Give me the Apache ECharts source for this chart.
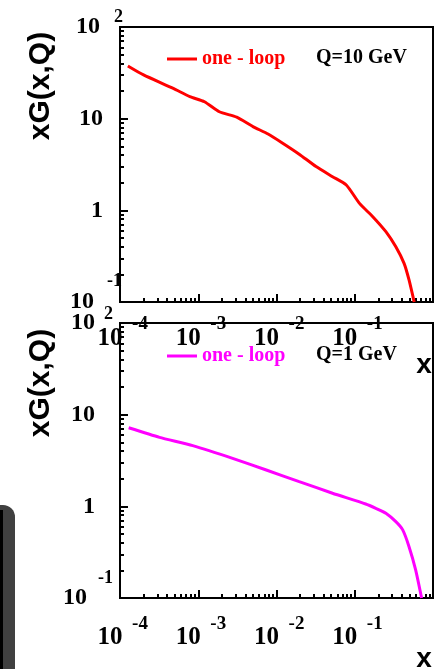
<!DOCTYPE html>
<html>
<head>
<meta charset="utf-8">
<script src="https://cdn.jsdelivr.net/npm/echarts@6/dist/echarts.min.js"></script>
<style>html,body{margin:0;padding:0;background:#fff}#c{width:435px;height:669px}</style>
</head>
<body>
<div id="c"></div>
<script>
// ---- data ----
const xTop = [1.26e-4, 2.0e-4, 4.8e-4, 7.8e-4, 1.2e-3, 1.86e-3, 3.1e-3, 5.0e-3, 7.8e-3, 1.2e-2, 1.95e-2, 3.2e-2, 5.2e-2, 7.8e-2, 0.115, 0.17, 0.25, 0.335, 0.427, 0.494, 0.575];
const yTop = [37.6, 30, 21.4, 17.4, 15.3, 11.9, 10.4, 8.2, 6.8, 5.4, 4.1, 3.0, 2.33, 1.89, 1.19, 0.853, 0.585, 0.40, 0.264, 0.174, 0.10];
const xBot = [1.29e-4, 3.2e-4, 8.5e-4, 2.75e-3, 7.4e-3, 1.95e-2, 5.2e-2, 0.138, 0.186, 0.25, 0.335, 0.41, 0.494, 0.60, 0.715];
const yBot = [7.2, 5.66, 4.59, 3.34, 2.49, 1.86, 1.39, 1.06, 0.95, 0.84, 0.68, 0.553, 0.363, 0.203, 0.10];

// ---- ticks / labels ----
const xMajorTicks = [1e-4, 1e-3, 1e-2, 1e-1, 1];
const xLabelValues = [1e-4, 1e-3, 1e-2, 1e-1];
const xLabelBase = ['10', '10', '10', '10'];
const xLabelExp = ['-4', '-3', '-2', '-1'];
const yMajorTicks = [0.1, 1, 10, 100];
const yLabelBase = ['10', '1', '10', '10'];
const yExpValues = [0.1, 100];
const yExpLabels = ['-1', '2'];
const minorMult = [2, 3, 4, 5, 6, 7, 8, 9];
const xDecades = [1e-4, 1e-3, 1e-2, 1e-1];
const yDecades = [0.1, 1, 10];
const xMinorTicks = [];
xDecades.forEach(d => minorMult.forEach(m => xMinorTicks.push(+(m * d).toPrecision(6))));
const yMinorTicks = [];
yDecades.forEach(d => minorMult.forEach(m => yMinorTicks.push(+(m * d).toPrecision(6))));

const SERIF = '"Liberation Serif", "Times New Roman", serif';
const SANS = '"Liberation Sans", Arial, sans-serif';

function idxOf(arr, v) {
  let best = 0, bd = Infinity;
  arr.forEach((a, i) => { const d = Math.abs(Math.log10(a) - Math.log10(v)); if (d < bd) { bd = d; best = i; } });
  return best;
}

const panels = [
  { top: 27, xm: 24, xem: 12.5, ym: 17, ymD: 3, ymC: 9, yem: -3, e2pb: 19, e1pb: 42, e1pr: 1 },
  { top: 323, xm: 27.5, xem: 16.5, ym: 25, ymD: 0, ymC: 8, yem: 7, e2pb: 18, e1pb: 40, e1pr: 0 }
];

const grids = [], xAxes = [], yAxes = [];
panels.forEach((p, g) => {
  grids.push({ left: 120, top: p.top, width: 313, height: 275, show: true, borderColor: '#000', borderWidth: 2, backgroundColor: 'transparent', containLabel: false, outerBoundsMode: 'none' });
  const baseX = { gridIndex: g, type: 'log', logBase: 10, min: 1e-4, max: 1, position: 'bottom', splitLine: { show: false }, minorTick: { show: false }, minorSplitLine: { show: false } };
  // main x
  xAxes.push(Object.assign({}, baseX, {
    axisLine: { show: true, onZero: false, lineStyle: { color: '#000', width: 2 } },
    axisTick: { show: true, inside: true, length: 8, lineStyle: { color: '#000', width: 2 }, customValues: xMajorTicks },
    axisLabel: { show: true, customValues: xLabelValues, formatter: v => xLabelBase[idxOf(xLabelValues, v)], margin: p.xm, padding: [0, 20, 0, 0], color: '#000', fontFamily: SERIF, fontWeight: 'bold', fontSize: 25 }
  }));
  // exponent x
  xAxes.push(Object.assign({}, baseX, {
    axisLine: { show: false }, axisTick: { show: false },
    axisLabel: { show: true, customValues: xLabelValues, formatter: v => xLabelExp[idxOf(xLabelValues, v)], margin: p.xem, padding: [0, 0, 0, 40], color: '#000', fontFamily: SERIF, fontWeight: 'bold', fontSize: 19 }
  }));
  // minor x ticks
  xAxes.push(Object.assign({}, baseX, {
    axisLine: { show: false },
    axisTick: { show: true, inside: true, length: 4, lineStyle: { color: '#000', width: 2 }, customValues: xMinorTicks },
    axisLabel: { show: false }
  }));

  const baseY = { gridIndex: g, type: 'log', logBase: 10, min: 0.1, max: 100, position: 'left', splitLine: { show: false }, minorTick: { show: false }, minorSplitLine: { show: false } };
  const richBase = { fontFamily: SERIF, fontWeight: 'bold', fontSize: 24, color: '#000' };
  yAxes.push(Object.assign({}, baseY, {
    axisLine: { show: true, onZero: false, lineStyle: { color: '#000', width: 2 } },
    axisTick: { show: true, inside: true, length: 8, lineStyle: { color: '#000', width: 2 }, customValues: yMajorTicks },
    axisLabel: {
      show: true, customValues: yMajorTicks, margin: p.ym,
      formatter: v => {
        const i = idxOf(yMajorTicks, v);
        const s = i === 0 ? 'c' : (i === 3 ? 'd' : 'a');
        return '{' + s + '|' + yLabelBase[i] + '}';
      },
      rich: {
        a: Object.assign({}, richBase),
        c: Object.assign({}, richBase, { padding: [0, p.ymC, 0, 0] }),
        d: Object.assign({}, richBase, { padding: [0, p.ymD, 0, 0] })
      }
    }
  }));
  const richExp = { fontFamily: SERIF, fontWeight: 'bold', fontSize: 18, color: '#000' };
  yAxes.push(Object.assign({}, baseY, {
    axisLine: { show: false }, axisTick: { show: false },
    axisLabel: {
      show: true, customValues: yExpValues, margin: p.yem,
      formatter: v => {
        const i = idxOf(yExpValues, v);
        return '{' + (i === 0 ? 'e1' : 'e2') + '|' + yExpLabels[i] + '}';
      },
      rich: {
        e1: Object.assign({}, richExp, { padding: [0, p.e1pr, p.e1pb, 0] }),
        e2: Object.assign({}, richExp, { padding: [0, 0, p.e2pb, 0] })
      }
    }
  }));
  yAxes.push(Object.assign({}, baseY, {
    axisLine: { show: false },
    axisTick: { show: true, inside: true, length: 4, lineStyle: { color: '#000', width: 2 }, customValues: yMinorTicks },
    axisLabel: { show: false }
  }));
});

const legendText = { fontFamily: SERIF, fontWeight: 'bold', fontSize: 20, padding: [0, 0, 6, 0] };

const option = {
  animation: false,
  backgroundColor: '#fff',
  grid: grids,
  xAxis: xAxes,
  yAxis: yAxes,
  legend: [
    { left: 167, top: 49, padding: 0, itemWidth: 30, itemHeight: 3, icon: 'rect', selectedMode: false,
      data: ['one - loop (Q=10)'], formatter: () => 'one - loop', textStyle: Object.assign({ color: '#ff0000' }, legendText) },
    { left: 167, top: 346, padding: 0, itemWidth: 30, itemHeight: 3, icon: 'rect', selectedMode: false,
      data: ['one - loop (Q=1)'], formatter: () => 'one - loop', textStyle: Object.assign({ color: '#ff00ff' }, legendText) }
  ],
  series: [
    { name: 'one - loop (Q=10)', type: 'line', xAxisIndex: 0, yAxisIndex: 0, data: xTop.map((x, i) => [x, yTop[i]]),
      showSymbol: false, symbol: 'none', smooth: 0.2, lineStyle: { color: '#ff0000', width: 3 }, itemStyle: { color: '#ff0000' } },
    { name: 'one - loop (Q=1)', type: 'line', xAxisIndex: 3, yAxisIndex: 3, data: xBot.map((x, i) => [x, yBot[i]]),
      showSymbol: false, symbol: 'none', smooth: 0.2, lineStyle: { color: '#ff00ff', width: 3 }, itemStyle: { color: '#ff00ff' } }
  ],
  graphic: [
    { type: 'rect', shape: { x: -20, y: 505, width: 35, height: 200, r: 12 }, style: { fill: '#404040' }, silent: true },
    { type: 'rect', shape: { x: 0, y: 510, width: 3, height: 170 }, style: { fill: '#000' }, silent: true },
    { type: 'text', x: 41, y: 86, rotation: Math.PI / 2, style: { text: 'xG(x,Q)', x: 0, y: 0, font: 'bold 30px ' + SANS, fill: '#000', align: 'center', verticalAlign: 'middle' } },
    { type: 'text', x: 41, y: 383, rotation: Math.PI / 2, style: { text: 'xG(x,Q)', x: 0, y: 0, font: 'bold 30px ' + SANS, fill: '#000', align: 'center', verticalAlign: 'middle' } },
    { type: 'text', x: 424, y: 365, style: { text: 'x', x: 0, y: 0, font: 'bold 28px ' + SANS, fill: '#000', align: 'center', verticalAlign: 'middle' } },
    { type: 'text', x: 424, y: 659, style: { text: 'x', x: 0, y: 0, font: 'bold 28px ' + SANS, fill: '#000', align: 'center', verticalAlign: 'middle' } },
    { type: 'text', x: 316, y: 58, style: { text: 'Q=10 GeV', x: 0, y: 0, font: 'bold 20px ' + SERIF, fill: '#000', align: 'left', verticalAlign: 'middle' } },
    { type: 'text', x: 316, y: 355, style: { text: 'Q=1 GeV', x: 0, y: 0, font: 'bold 20px ' + SERIF, fill: '#000', align: 'left', verticalAlign: 'middle' } }
  ]
};

const chart = echarts.init(document.getElementById('c'), null, { renderer: 'canvas' });
chart.setOption(option);
</script>
</body>
</html>
